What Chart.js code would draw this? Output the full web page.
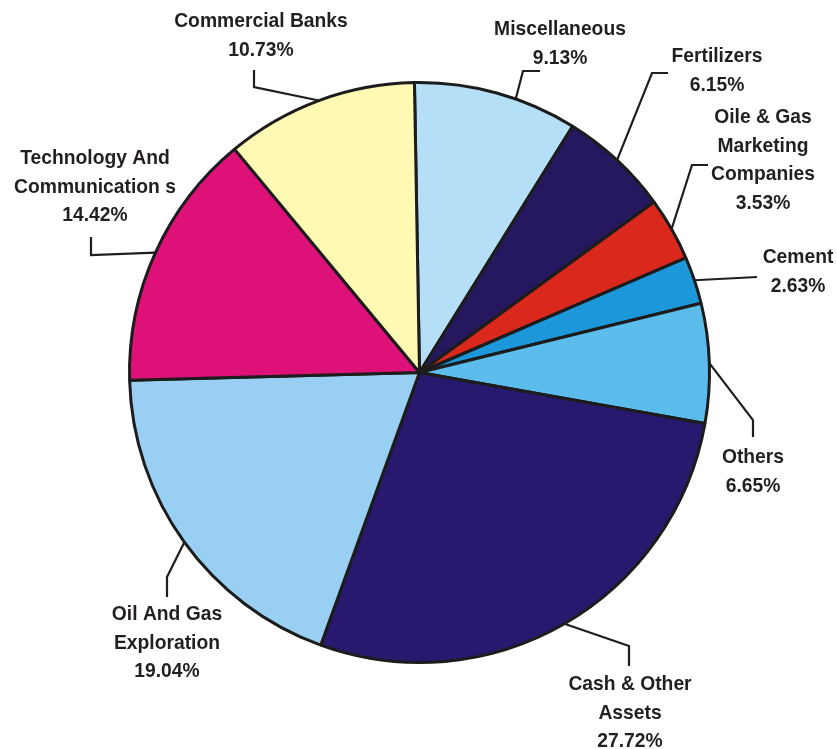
<!DOCTYPE html>
<html>
<head>
<meta charset="utf-8">
<script src="https://cdn.jsdelivr.net/npm/chart.js@4/dist/chart.umd.min.js"></script>
<style>
html,body{margin:0;padding:0;background:#fff;}
#wrap{width:837px;height:749px;position:relative;}
</style>
</head>
<body>
<div id="wrap"><canvas id="c"></canvas></div>
<script>
const categories = ["Miscellaneous", "Fertilizers", "Oile & Gas Marketing Companies", "Cement", "Others", "Cash & Other Assets", "Oil And Gas Exploration", "Technology And Communication s", "Commercial Banks"];
const values = [9.13, 6.15, 3.53, 2.63, 6.65, 27.72, 19.04, 14.42, 10.73];
const labelLines = [
  ["Miscellaneous"],
  ["Fertilizers"],
  ["Oile & Gas", "Marketing", "Companies"],
  ["Cement"],
  ["Others"],
  ["Cash & Other", "Assets"],
  ["Oil And Gas", "Exploration"],
  ["Technology And", "Communication s"],
  ["Commercial Banks"]
];
const colors = ["#b5dff6", "#26185e", "#da291c", "#1b97da", "#5cbdec", "#28186e", "#99cff3", "#dd1177", "#fefab3"];

// label layout (style): anchor fraction within slice, leader bend points, text centre and first line y
const layout = [
  {frac:0.62, pts:[[523,71],[540,71]], tx:560, ty:30},
  {frac:0.5, pts:[[652,73],[668,73]], tx:717, ty:57},
  {frac:0.5, pts:[[692,165],[708,165]], tx:763, ty:118},
  {frac:0.5, pts:[[757,277]], tx:798, ty:258},
  {frac:0.5, pts:[[753,420],[753,437]], tx:753, ty:458},
  {frac:0.5, pts:[[629,646],[629,666]], tx:630, ty:685},
  {frac:0.5, pts:[[167,577],[167,597]], tx:167, ty:615},
  {frac:0.5, pts:[[91,255],[91,237]], tx:95, ty:159},
  {frac:0.5, pts:[[254,87],[254,70]], tx:261, ty:22}
];

const labelPlugin = {
  id: 'leaderLabels',
  afterDatasetsDraw(chart) {
    const ctx = chart.ctx;
    const meta = chart.getDatasetMeta(0);
    ctx.save();
    meta.data.forEach((arc, i) => {
      const p = arc.getProps(['x','y','startAngle','endAngle','outerRadius'], true);
      const L = layout[i];
      const a = p.startAngle + L.frac * (p.endAngle - p.startAngle);
      const ax = p.x + Math.cos(a) * p.outerRadius;
      const ay = p.y + Math.sin(a) * p.outerRadius;
      ctx.beginPath();
      ctx.moveTo(ax, ay);
      L.pts.forEach(q => ctx.lineTo(q[0], q[1]));
      ctx.strokeStyle = '#1e1e1e';
      ctx.lineWidth = 2.2;
      ctx.lineJoin = 'miter';
      ctx.stroke();
      const lines = labelLines[i].concat([values[i].toFixed(2) + '%']);
      ctx.fillStyle = '#231f20';
      ctx.font = 'bold 19.3px "Liberation Sans", Arial, sans-serif';
      ctx.textAlign = 'center';
      ctx.textBaseline = 'middle';
      lines.forEach((t, k) => ctx.fillText(t, L.tx, L.ty + k * 28.5));
    });
    ctx.restore();
  }
};

new Chart(document.getElementById('c'), {
  type: 'pie',
  data: {
    labels: categories,
    datasets: [{
      data: values,
      backgroundColor: colors,
      borderColor: '#1c1c1c',
      borderWidth: 3,
      hoverOffset: 0
    }]
  },
  options: {
    responsive: true,
    maintainAspectRatio: false,
    animation: false,
    rotation: -1,
    layout: { padding: { left: 128, right: 126, top: 81, bottom: 85 } },
    plugins: { legend: { display: false }, tooltip: { enabled: false } }
  },
  plugins: [labelPlugin]
});
</script>
</body>
</html>
